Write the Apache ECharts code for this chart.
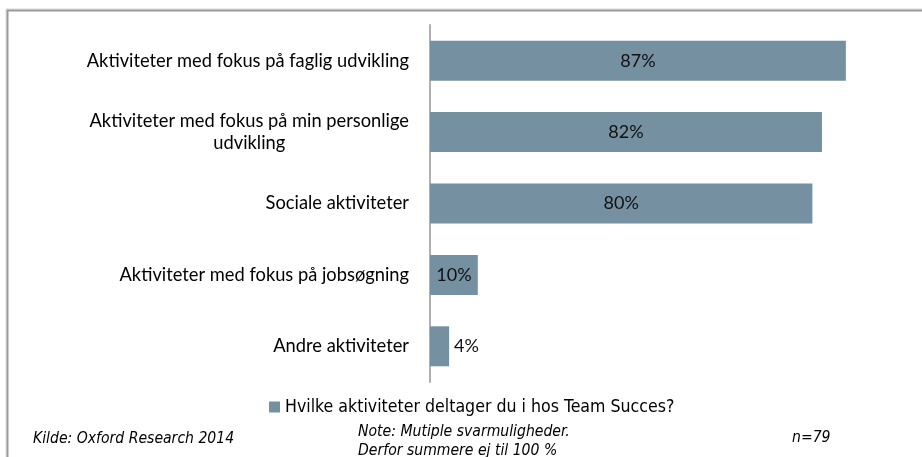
<!DOCTYPE html>
<html>
<head>
<meta charset="utf-8">
<script src="https://cdn.jsdelivr.net/npm/echarts@6/dist/echarts.min.js"></script>
<style>
  html, body { margin: 0; padding: 0; background: #fff; }
  #chart { width: 922px; height: 457px; }
</style>
</head>
<body>
<div id="chart"></div>
<script>
// Activities and share of respondents (%)
const categories = [
  'Aktiviteter med fokus på faglig udvikling',
  'Aktiviteter med fokus på min personlige\nudvikling',
  'Sociale aktiviteter',
  'Aktiviteter med fokus på jobsøgning',
  'Andre aktiviteter'
];
const values = [87, 82, 80, 10, 4];
const seriesName = 'Hvilke aktiviteter deltager du i hos Team Succes?';
const sourceText = 'Kilde: Oxford Research 2014';
const noteLines = ['Note: Mutiple svarmuligheder.', 'Derfor summere ej til 100 %'];
const sampleText = 'n=79';

const barColor = '#7590a1';
const mainFont = 'Lato';
const noteFont = 'DejaVu Sans Condensed';

const chart = echarts.init(document.getElementById('chart'), null, { renderer: 'canvas' });

// Small bars get their label outside, the rest centered inside
const barData = values.map(v => ({
  value: v,
  label: v < 8 ? { position: 'right', distance: 5 } : { position: 'inside' }
}));

chart.setOption({
  animation: false,
  backgroundColor: '#ffffff',
  grid: { left: 430, top: 25, width: 478, height: 357, containLabel: false },
  xAxis: {
    type: 'value', min: 0, max: 100, show: false
  },
  yAxis: {
    type: 'category',
    data: categories,
    inverse: true,
    axisLine: { show: true, lineStyle: { color: '#b0b0b0', width: 2 } },
    axisTick: { show: false },
    splitLine: { show: false },
    axisLabel: {
      margin: 21,
      fontFamily: mainFont,
      fontSize: 18.3,
      color: '#000',
      lineHeight: 22,
      formatter: v => v.split('\n').map(l => '{c|' + l + '}').join('\n'),
      rich: {
        c: { align: 'center', fontFamily: mainFont, fontSize: 18.3, color: '#000', lineHeight: 22 }
      }
    }
  },
  legend: {
    data: [seriesName],
    left: 264,
    top: 393,
    icon: 'rect',
    itemWidth: 11,
    itemHeight: 11,
    itemGap: 6,
    textStyle: { fontFamily: noteFont, fontSize: 17.6, color: '#000' }
  },
  series: [{
    name: seriesName,
    type: 'bar',
    data: barData,
    barCategoryGap: '44%',
    itemStyle: { color: barColor },
    label: {
      show: true,
      formatter: '{c}%',
      fontFamily: mainFont,
      fontSize: 18,
      color: '#111'
    }
  }],
  graphic: [
    // Chart frame with a soft outer edge
    { type: 'rect', silent: true, shape: { x: 6, y: 9, width: 1000, height: 1000 },
      style: { fill: 'none', stroke: '#d8d8d8', lineWidth: 1 } },
    { type: 'rect', silent: true, shape: { x: 7.5, y: 10.5, width: 1000, height: 1000 },
      style: { fill: 'none', stroke: '#999999', lineWidth: 2 } },
    { type: 'text', left: 33, top: 431, silent: true,
      style: { text: sourceText, font: 'italic 15.6px "' + noteFont + '"', fill: '#000' } },
    { type: 'text', left: 358, top: 422, silent: true,
      style: { text: noteLines.join('\n'), font: 'italic 15.6px "' + noteFont + '"', lineHeight: 19, fill: '#000' } },
    { type: 'text', left: 792, top: 430, silent: true,
      style: { text: sampleText, font: 'italic 15.6px "' + noteFont + '"', fill: '#000' } }
  ]
});
</script>
</body>
</html>
